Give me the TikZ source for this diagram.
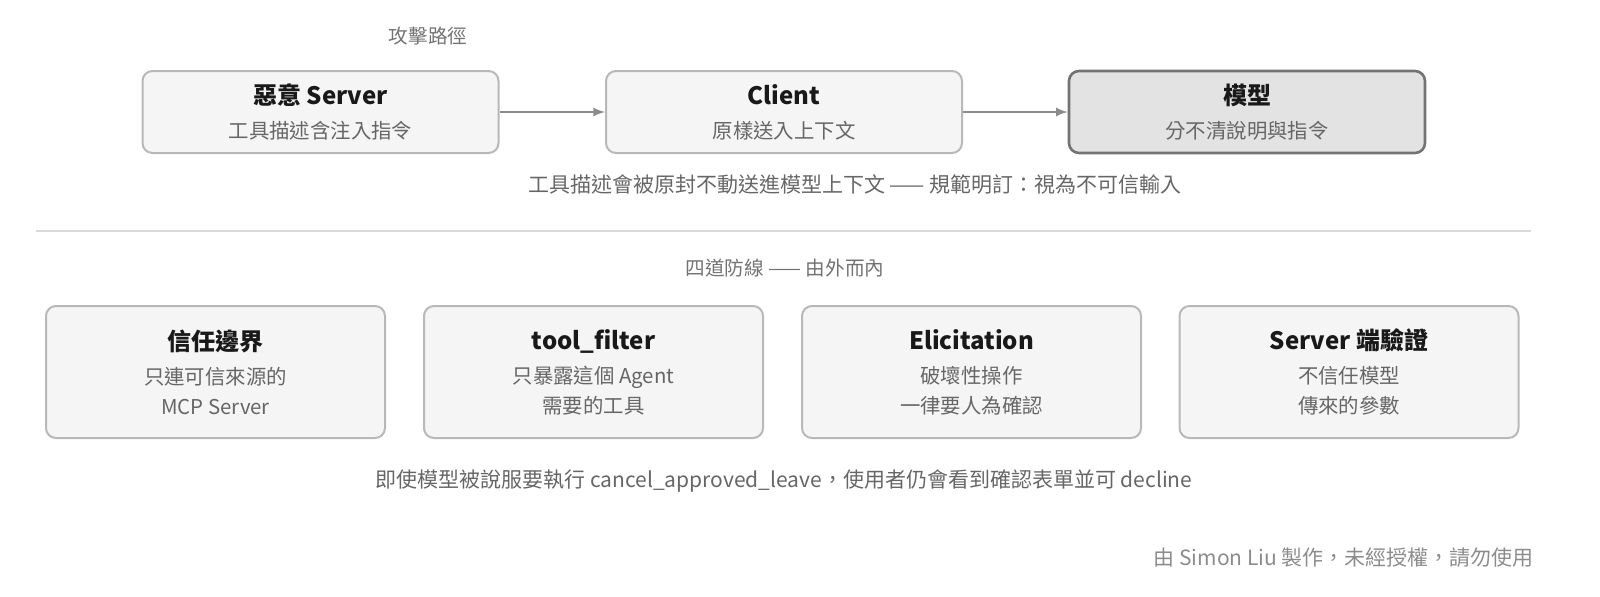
\documentclass[tikz,border=0pt]{standalone}
\usepackage{fontspec}
\setmainfont{Noto Sans CJK TC}
\usetikzlibrary{positioning}
\colorlet{boxfill}{black!4}
\colorlet{boxline}{black!28}
\colorlet{hotfill}{black!11}
\colorlet{hotline}{black!55}
\colorlet{softtext}{black!55}
\tikzset{
  box/.style={draw=boxline, line width=1pt, fill=boxfill, rounded corners=5pt, align=center,
    text=black!60, font=\fontsize{10.2}{15}\selectfont},
  hot/.style={box, draw=hotline, line width=1.3pt, fill=hotfill},
  top/.style={minimum width=178pt, minimum height=41pt},
  def/.style={box, minimum width=169.5pt, minimum height=66pt},
  flow/.style={-latex, draw=black!45, line width=1pt},
  note/.style={text=softtext, font=\fontsize{9.8}{11}\selectfont},
  captext/.style={text=black!60, font=\fontsize{10.5}{13}\selectfont}
}
\newcommand{\boxhead}[1]{{\fontsize{12}{16}\selectfont\bfseries\color{black!90}#1}\\[2pt]}
\begin{document}
\begin{tikzpicture}[x=0.5pt, y=-0.5pt]
  \useasboundingbox (0,0) rectangle (1600,596);
  % attack path
  \node[note] (pathlbl) at (428,36) {攻擊路徑};
  \node[box, top] (srv) at (320.5,112) {\boxhead{惡意 Server}工具描述含注入指令};
  \node[box, top] (cli) at (784,112) {\boxhead{Client}原樣送入上下文};
  \node[hot, top] (mdl) at (1247,112) {\boxhead{模型}分不清說明與指令};
  \draw[flow] (srv) -- (cli);
  \draw[flow] (cli) -- (mdl);
  \node[captext] (pathcap) at (855,185) {工具描述會被原封不動送進模型上下文 —— 規範明訂：視為不可信輸入};
  \draw[black!15, line width=0.8pt] (36,231) -- (1531,231);
  % defences
  \node[note] (deflbl) at (785,268) {四道防線 —— 由外而內};
  \node[def] (trust) at (215.5,372) {\boxhead{信任邊界}只連可信來源的\\MCP Server};
  \node[def] (filt) at (593.5,372) {\boxhead{tool\_filter}只暴露這個 Agent\\需要的工具};
  \node[def] (elic) at (971.5,372) {\boxhead{Elicitation}破壞性操作\\一律要人為確認};
  \node[def] (check) at (1349,372) {\boxhead{Server 端驗證}不信任模型\\傳來的參數};
  \node[captext] (defcap) at (784,481) {即使模型被說服要執行 cancel\_approved\_leave，使用者仍會看到確認表單並可 decline};
  \node[note, anchor=east, text=black!45, font=\fontsize{10.5}{13}\selectfont] (foot) at (1541,558) {由 Simon Liu 製作，未經授權，請勿使用};
\end{tikzpicture}
\end{document}
